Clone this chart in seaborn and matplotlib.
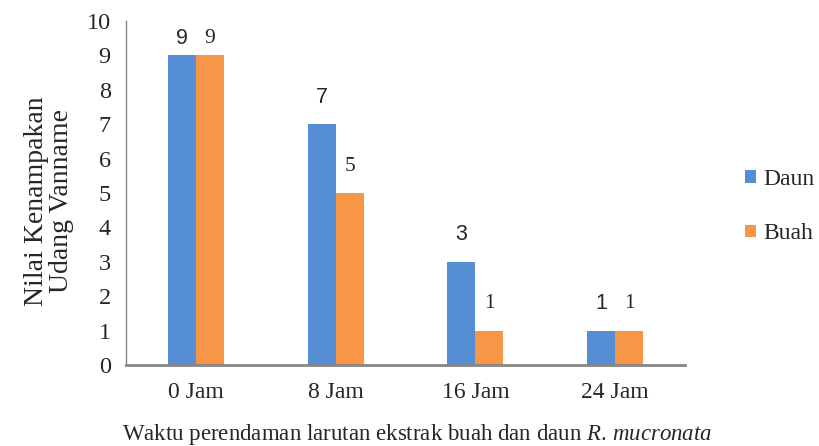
import seaborn as sns
import matplotlib.pyplot as plt
import pandas as pd

waktu = ['0 Jam', '8 Jam', '16 Jam', '24 Jam']
daun = [9, 7, 3, 1]
buah = [9, 5, 1, 1]

df = pd.DataFrame({
    'waktu': waktu * 2,
    'nilai': daun + buah,
    'bagian': ['Daun'] * len(daun) + ['Buah'] * len(buah),
})

sns.set_style("white")
plt.rcParams['font.family'] = ['Liberation Serif', 'DejaVu Serif']
plt.rcParams['mathtext.fontset'] = 'custom'
plt.rcParams['mathtext.rm'] = 'Liberation Serif'
plt.rcParams['mathtext.it'] = 'Liberation Serif:italic'

fig = plt.figure(figsize=(8.19, 4.46), dpi=100)
ax = fig.add_axes([0.1538, 0.1816, 0.6826, 0.7713])

sns.barplot(
    data=df, x='waktu', y='nilai', hue='bagian', ax=ax,
    palette={'Daun': '#558ED5', 'Buah': '#F79646'},
    width=0.4, saturation=1, errorbar=None, linewidth=0,
)

ax.set_ylim(0, 10)
ax.set_xlim(-0.5, 3.5)
ax.set_yticks(range(0, 11))
ax.tick_params(axis='y', length=5, width=1, color='#868686', labelsize=17.5, pad=6)
ax.tick_params(axis='x', length=0, labelsize=17, pad=12)

sns.despine(ax=ax, top=True, right=True)
for side in ['left', 'bottom']:
    ax.spines[side].set_color('#868686')
ax.spines['left'].set_linewidth(1)
ax.spines['bottom'].set_linewidth(2)

ax.set_ylabel('Nilai Kenampakan\nUdang Vanname', fontsize=20, linespacing=1.0)
ax.yaxis.set_label_coords(-0.093, 0.477)
ax.set_xlabel('Waktu perendaman larutan ekstrak buah dan daun $\\it{R.}\\,\\it{mucronata}$',
              fontsize=16.5)
ax.xaxis.set_label_coords(0.52, -0.165)

# data labels: Daun in sans, Buah in serif
for cont, fam in zip(ax.containers, ['Liberation Sans', 'Liberation Serif']):
    for bar in cont:
        h = bar.get_height()
        ax.text(bar.get_x() + bar.get_width() / 2, min(h + 0.78, 9.5), f'{h:g}',
                ha='center', va='center', fontsize=15.5, family=fam)

leg = ax.legend(loc='center left', bbox_to_anchor=(1.07, 0.46), frameon=False,
                fontsize=17, handlelength=0.45, handleheight=0.45, handletextpad=0.3,
                labelspacing=1.4)

fig.savefig('out.png', dpi=100)
